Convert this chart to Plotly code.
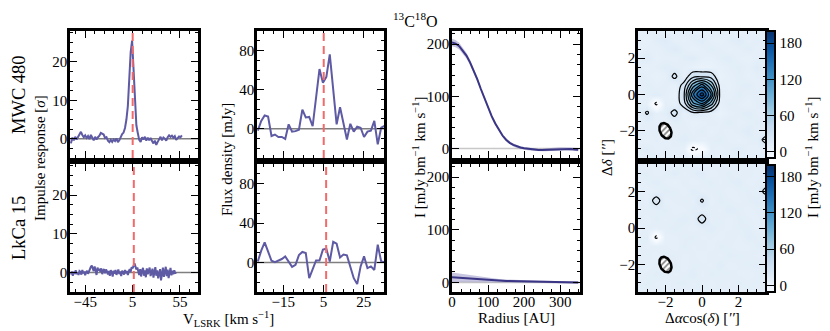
import numpy as np
import plotly.graph_objects as go

# ---------------- data ----------------
sources = ["MWC 480", "LkCa 15"]
v_sys = [5.1, 6.3]

# matched-filter impulse response [sigma]
ir_vel_mwc = np.arange(-60.0, 57.1, 1.5)
ir_mwc = [-1.2, 0.3, -0.4, 0.5, -0.2, 0.6, 1.4, 1.8, 1.0, 0.4,
          0.9, 0.2, 0.7, -0.1, 1.0, 0.3, -0.4, 0.5, -0.2, 0.4,
          0.8, 1.5, 1.3, 1.1, 0.2, 0.4, -0.5, -0.9, -0.3, -0.8,
          -0.2, -0.6, 0.1, -0.9, -0.4, 0.6, 1.2, 1.6, 2.8, 5.0,
          8.5, 15.5, 22.5, 25.5, 17.5, 8.5, 3.5, 1.5, -0.3, -0.8,
          0.4, -0.2, 0.5, -0.5, 0.3, -0.4, 0.2, -0.6, -1.2, -0.5,
          -1.6, -0.8, -0.2, 0.5, -0.4, 0.3, 0.0, -0.5, 0.4, 0.9,
          0.5, 0.8, 0.3, 0.7, -0.3, 0.2, 0.6, 0.4, 0.9]
ir_vel_lk = np.arange(-60.0, 51.1, 1.0)
ir_lk = [-0.5, 0.3, -0.8, 0.2, -0.3, 0.6, -0.4, 0.1, -0.6, 0.4,
         0.2, -0.5, 0.7, -0.2, 0.3, -0.7, 0.1, 0.5, -0.3, 0.4,
         0.9, 1.5, 1.8, 1.2, 0.4, 1.6, 0.8, -0.6, 1.3, 0.5,
         1.0, 0.2, 1.1, -0.4, 0.6, 0.9, -0.2, 0.8, 0.3, -0.5,
         0.4, -0.8, 0.6, 0.1, -1.0, 0.5, -0.3, 0.7, -0.6, 0.2,
         0.8, -0.4, 0.3, -0.9, 0.5, 0.1, -0.5, 0.7, -0.2, 0.4,
         -0.6, 0.3, 0.9, 0.2, 1.4, 1.1, 2.0, 2.4, 1.6, 0.8,
         1.3, 0.2, -0.6, 0.9, -1.0, 0.5, 1.2, -0.8, 0.6, -1.2,
         1.1, -0.4, 0.7, 1.3, -0.9, 0.2, 1.0, -1.3, 0.4, 1.4,
         -0.8, 0.6, -1.5, -0.3, 0.9, -2.0, 0.5, 1.3, -1.1, 0.2,
         1.5, -0.9, 0.8, -1.4, 0.3, 1.2, -0.7, 0.5, -0.4, 0.6,
         -0.2, 0.1]

# integrated spectra [mJy]
spec_vel = np.arange(-27.6, 35.4, 1.7)
spec_mwc = [-2, 8, 13.5, 12.5, -7.5, -6, -8.5, -8.5, -10.5, 4.5,
            -3, -2.5, -1, 19.5, 11.5, 12, 2.5, 33, 61, 47,
            53, 76, 38, 4.5, 22, 7, -11, 5, -3, 2,
            1, -8.5, -3, -2, 8, -16, 1, 3]
spec_lk = [1, 12, 20.5, 11.3, 1.7, 0.3, 2, 3.5, 6.2, 1,
           -4.5, -2.4, 7.5, 10.7, 9.6, -16, -7.6, 2, 2, 13,
           14, 1, 21, 19, 5, 8, 7.2, -5.8, -16, -22,
           -4, 6.2, -5.8, -4, -7.6, 18, 1, 0.3]

# radial intensity profiles [mJy/beam km/s]
radius_au = np.arange(0, 351, 10)
prof_mwc = [203, 201, 196, 188, 178, 165, 150, 133, 114, 96,
            78, 62, 48, 36, 25, 17, 11, 7, 4, 2,
            0.5, -0.6, -1.5, -2.2, -2.6, -2.7, -2.5, -2.0, -1.4, -0.8,
            -0.4, -0.2, -0.4, -0.9, -1.5, -2.0]
prof_mwc_spread = [7, 7, 6.5, 6, 5.5, 5, 4.5, 4.2, 4, 3.8,
                   3.5, 3.3, 3.2, 3, 3, 3, 2.8, 2.8, 2.7, 2.6,
                   2.5, 2.5, 2.5, 2.5, 2.5, 2.5, 2.5, 2.5, 2.6, 2.7,
                   2.8, 2.9, 3, 3.1, 3.2, 3.3]
prof_lk = [10, 9.5, 9, 8.3, 7.5, 6.8, 6.2, 5.6, 5.1, 4.7,
           4.3, 4, 3.7, 3.4, 3.1, 2.9, 2.7, 2.5, 2.3, 2.1,
           2, 1.8, 1.7, 1.5, 1.4, 1.3, 1.1, 1, 0.8, 0.7,
           0.5, 0.4, 0.2, 0.1, 0, -0.2]
prof_lk_spread = [9, 8.5, 8, 7.5, 7, 6.5, 6, 5.5, 5, 4.5,
                  4, 3.7, 3.4, 3.1, 2.9, 2.7, 2.5, 2.4, 2.3, 2.2,
                  2.1, 2, 2, 2, 2, 2, 2, 2, 2, 2,
                  2, 2, 2, 2, 2, 2]

# moment-0 maps, rows listed from +3.5" (top) down to -3.5"
map_offsets = np.linspace(-3.5, 3.5, 15)
mom0_mwc = [
    [8, 12, 10, 6, 9, 14, 11, 7, 10, 13, 9, 6, 11, 8, 10],
    [11, 7, 13, 15, 10, 8, 12, 14, 9, 7, 12, 15, 9, 12, 7],
    [6, 10, 9, 12, 16, 11, 7, 10, 13, 11, 8, 10, 14, 9, 11],
    [12, 15, 8, 10, 9, 13, 15, 9, 8, 12, 14, 9, 7, 10, 13],
    [9, 8, 11, 14, 12, 10, 6, 4, 5, 8, 11, 13, 10, 15, 9],
    [13, 10, 7, 9, 24, 8, 33, 35, 31, 5, 9, 12, 8, 11, 10],
    [10, 13, 9, 12, 7, 26, 90, 130, 80, 10, 8, 12, 14, 9, 12],
    [7, 11, 14, 10, 6, 34, 135, 192, 120, 12, 9, 13, 10, 12, 8],
    [12, 9, -25, 11, 8, 28, 95, 120, 70, 8, 13, 10, 7, 11, 14],
    [11, 22, 9, 12, 25, 8, 18, 16, 10, 5, 9, 12, 14, 10, 8],
    [9, 12, 10, 8, 13, 11, 7, 9, 12, 10, 14, 9, 11, 13, 10],
    [13, 10, 12, 15, 9, 12, 10, 13, 8, 11, 9, 12, 15, 10, 12],
    [10, 8, 11, 9, 12, 14, 11, 9, 12, 13, 10, 8, 11, 12, 26],
    [12, 14, 9, 11, 10, 8, -26, -14, 11, 9, 12, 14, 10, 9, 11],
    [8, 11, 13, 10, 7, 12, 9, 11, 13, 8, 10, 12, 9, 11, 13],
]
mom0_lk = [
    [10, 8, 12, 9, 11, 13, 10, 8, 12, 11, 9, 13, 10, 12, 9],
    [12, 13, 9, 11, 14, 10, 12, 15, 9, 11, 13, 10, 12, 9, 11],
    [9, 11, 14, 10, 8, 12, 9, 11, 13, 10, 12, 14, 9, 11, 13],
    [11, 9, 10, 13, 12, 9, 14, 10, 11, 12, 9, 11, 13, 10, 26],
    [13, 10, 27, 9, 11, 12, 10, 22, 9, 13, 11, 10, 12, 14, 10],
    [10, 12, 11, 13, 9, 10, 13, 11, 12, 10, 14, 12, 9, 11, 12],
    [12, 9, 13, 10, 12, 14, 11, 27, 10, 12, 9, 13, 11, 10, 14],
    [9, 11, 10, 12, 13, 11, 9, 12, 14, 11, 10, 12, 13, 9, 11],
    [11, 13, -25, 9, 10, 12, 13, 10, 11, 9, 12, 10, 14, 12, 10],
    [13, 10, 12, 11, 9, 13, 10, 12, 9, 13, 11, 9, 10, 13, 12],
    [10, 12, 9, 13, 12, 10, 11, 9, 12, 10, 13, 12, 11, 10, 9],
    [12, 9, 11, 10, 13, 9, 12, 11, 10, 14, 9, 11, 12, 13, 11],
    [9, 11, 13, 12, 10, 11, 14, 10, 13, 11, 12, 10, 9, 11, 13],
    [11, 13, 10, 9, 12, 13, 10, 12, 9, 12, 10, 13, 11, 12, 10],
    [13, 10, 12, 11, 10, 9, 12, 13, 11, 10, 12, 9, 13, 10, 12],
]
contour_start, contour_end, contour_step = 20, 180, 20
neg_level = -20

beam_x, beam_y = -2.0, -2.0
beam_major, beam_minor, beam_pa = 0.9, 0.6, 25

# ---------------- styling ----------------
# the page body adds an 8 px margin, so lay out in window pixels minus that
PAD = 8
W, H = 830 - PAD, 331 - PAD
FONT = "Liberation Serif"
LINE = "#5e5aa3"
DARK = "#3a3585"
RED = "#f26b6b"
BLUES = ["#f7fbff", "#deebf7", "#c6dbef", "#9ecae1", "#6baed6",
         "#4292c6", "#2171b5", "#08519c", "#08306b"]

col_px = [(70, 198), (257, 384), (452, 580), (638, 766)]
row_px = [(31, 158), (164, 292)]


def fx(px):
    return (px - PAD) / W


def fy(py):
    return 1 - (py - PAD) / H


def xd(a, b):
    return [fx(a), fx(b)]


def yd(a, b):
    return [fy(b), fy(a)]


# per column: x range, x tick0, dtick, minor, y range, y dtick, y minor
col_axes = [
    dict(xr=[-61, 74], xt0=5, xdt=50, xmn=10, yr=[-5, 28], ydt=10, ymn=2.5),
    dict(xr=[-28, 35], xt0=5, xdt=20, xmn=5, yr=[-30, 100], ydt=40, ymn=10),
    dict(xr=[0, 355], xt0=0, xdt=100, xmn=25, yr=[-18, 225], ydt=100, ymn=20),
    dict(xr=[-3.5, 3.5], xt0=0, xdt=2, xmn=0.5, yr=[-3.5, 3.5], ydt=2, ymn=0.5),
]


def axis(domain, anchor, rng, tick0, dtick, minor, labels, standoff):
    return dict(
        domain=domain, anchor=anchor, range=rng,
        tickmode="linear", tick0=tick0, dtick=dtick,
        ticks="inside", ticklen=7, tickwidth=1.2, tickcolor="black",
        minor=dict(tick0=tick0, dtick=minor, ticks="inside", ticklen=3.5,
                   tickwidth=1, tickcolor="black", showgrid=False),
        showline=True, linewidth=2.5, linecolor="black", mirror="allticks",
        showgrid=False, zeroline=False, showticklabels=labels,
        ticklabelstandoff=standoff,
        tickfont=dict(size=15, family=FONT, color="black"),
    )


fig = go.Figure()
layout = {}
shapes = []

for r in range(2):
    for c in range(4):
        n = r * 4 + c + 1
        s = "" if n == 1 else str(n)
        ca = col_axes[c]
        layout["xaxis" + s] = axis(xd(*col_px[c]), "y" + s, ca["xr"], ca["xt0"],
                                   ca["xdt"], ca["xmn"], r == 1, -6)
        layout["yaxis" + s] = axis(yd(*row_px[r]), "x" + s, ca["yr"], 0,
                                   ca["ydt"], ca["ymn"], True, -3)

# column 1: impulse response
for r, (vel, ir) in enumerate([(ir_vel_mwc, ir_mwc), (ir_vel_lk, ir_lk)]):
    s = "" if r == 0 else "5"
    fig.add_trace(go.Scatter(x=vel, y=ir, mode="lines", line=dict(color=LINE, width=2),
                             xaxis="x" + s, yaxis="y" + s, showlegend=False))

# column 2: spectra
for r, spec in enumerate([spec_mwc, spec_lk]):
    s = "2" if r == 0 else "6"
    fig.add_trace(go.Scatter(x=spec_vel, y=spec, mode="lines", line=dict(color=LINE, width=2),
                             xaxis="x" + s, yaxis="y" + s, showlegend=False))

# column 3: radial profiles with spread
for r, (prof, spread) in enumerate([(prof_mwc, prof_mwc_spread), (prof_lk, prof_lk_spread)]):
    s = "3" if r == 0 else "7"
    prof = np.array(prof)
    spread = np.array(spread)
    fig.add_trace(go.Scatter(x=radius_au, y=prof + spread, mode="lines", line=dict(width=0),
                             xaxis="x" + s, yaxis="y" + s, showlegend=False))
    fig.add_trace(go.Scatter(x=radius_au, y=prof - spread, mode="lines", line=dict(width=0),
                             fill="tonexty", fillcolor="rgba(94,90,163,0.35)",
                             xaxis="x" + s, yaxis="y" + s, showlegend=False))
    fig.add_trace(go.Scatter(x=radius_au, y=prof, mode="lines", line=dict(color=DARK, width=2),
                             xaxis="x" + s, yaxis="y" + s, showlegend=False))

# column 4: moment-0 maps
t = np.linspace(0, 2 * np.pi, 80)
pa = np.radians(beam_pa)
bx = beam_x + 0.5 * beam_minor * np.cos(t) * np.cos(pa) - 0.5 * beam_major * np.sin(t) * np.sin(pa)
by = beam_y + 0.5 * beam_minor * np.cos(t) * np.sin(pa) + 0.5 * beam_major * np.sin(t) * np.cos(pa)

for r, grid in enumerate([mom0_mwc, mom0_lk]):
    s = "4" if r == 0 else "8"
    z = np.array(grid)[::-1]
    fig.add_trace(go.Heatmap(x=map_offsets, y=map_offsets, z=z, zsmooth="best",
                             coloraxis="coloraxis" if r == 0 else "coloraxis2",
                             xaxis="x" + s, yaxis="y" + s))
    fig.add_trace(go.Contour(x=map_offsets, y=map_offsets, z=z, autocontour=False,
                             contours=dict(start=contour_start, end=contour_end,
                                           size=contour_step, coloring="lines"),
                             colorscale=[[0, "black"], [1, "black"]], showscale=False,
                             line=dict(width=1.2, smoothing=1.0),
                             xaxis="x" + s, yaxis="y" + s))
    fig.add_trace(go.Contour(x=map_offsets, y=map_offsets, z=z, autocontour=False,
                             contours=dict(start=neg_level, end=neg_level,
                                           size=contour_step, coloring="lines"),
                             colorscale=[[0, "black"], [1, "black"]], showscale=False,
                             line=dict(width=1.2, smoothing=1.0, dash="3px,2px"),
                             xaxis="x" + s, yaxis="y" + s))
    fig.add_trace(go.Scatter(x=bx, y=by, mode="lines", fill="toself",
                             fillpattern=dict(shape="/", fgcolor="black", bgcolor="white",
                                              size=4, solidity=0.4),
                             line=dict(color="black", width=2.5),
                             xaxis="x" + s, yaxis="y" + s, showlegend=False))

# zero lines and systemic velocity markers
for n, col in [(1, "#7f7f7f"), (5, "#7f7f7f"), (2, "#7f7f7f"), (6, "#7f7f7f"),
               (3, "#c8c8c8"), (7, "#c8c8c8")]:
    s = "" if n == 1 else str(n)
    shapes.append(dict(type="line", xref="x" + s + " domain", yref="y" + s,
                       x0=0, x1=1, y0=0, y1=0, layer="below",
                       line=dict(color=col, width=1.5)))
for n, vs in [(1, v_sys[0]), (2, v_sys[0]), (5, v_sys[1]), (6, v_sys[1])]:
    s = "" if n == 1 else str(n)
    shapes.append(dict(type="line", xref="x" + s, yref="y" + s + " domain",
                       x0=vs, x1=vs, y0=0, y1=1,
                       line=dict(color=RED, width=2, dash="8px,5px")))

cbar = dict(x=fx(766), xanchor="left", xpad=0, ypad=0, thickness=9,
            len=127 / H, lenmode="fraction", yanchor="middle",
            outlinewidth=2, outlinecolor="black", ticks="inside", ticklen=9,
            tickcolor="black", tickmode="array", tickvals=[0, 60, 120, 180],
            tickfont=dict(size=15, family=FONT, color="black"))
layout["coloraxis"] = dict(cmin=-10, cmax=200, colorscale=[[i / 8, c] for i, c in enumerate(BLUES)],
                           colorbar=dict(cbar, y=fy((31 + 158) / 2)))
layout["coloraxis2"] = dict(cmin=-10, cmax=200, colorscale=[[i / 8, c] for i, c in enumerate(BLUES)],
                            colorbar=dict(cbar, y=fy((164 + 292) / 2)))


def label(text, x, y, size=15, angle=0):
    return dict(text=text, x=fx(x), y=fy(y), xref="paper", yref="paper",
                showarrow=False, textangle=angle, xanchor="center", yanchor="middle",
                borderpad=0, font=dict(size=size, family=FONT, color="black"))


annotations = [
    label("<sup>13</sup>C<sup>18</sup>O", 415, 20, size=16),
    label(sources[0], 19, 95, size=18.5, angle=-90),
    label(sources[1], 19, 228, size=18.5, angle=-90),
    label("Impulse response [<i>σ</i>]", 40, 158, angle=-90),
    label("Flux density [mJy]", 227, 160, angle=-90),
    label("I [mJy bm<sup>−1</sup> km s<sup>−1</sup>]", 419, 157, angle=-90),
    label("Δ<i>δ</i> [<i>′′</i>]", 607, 158, angle=-90),
    label("I [mJy bm<sup>−1</sup> km s<sup>−1</sup>]", 812, 157, angle=-90),
    label("V<sub>LSRK</sub> [km s<sup>−1</sup>]", 228, 319),
    label("Radius [AU]", 516, 318),
    label("Δ<i>α</i>cos(<i>δ</i>) [<i>′′</i>]", 702, 318),
]

fig.update_layout(
    **layout,
    shapes=shapes,
    annotations=annotations,
    width=W, height=H,
    margin=dict(l=0, r=0, t=0, b=0, autoexpand=False),
    paper_bgcolor="white", plot_bgcolor="white",
    font=dict(family=FONT, color="black"),
    showlegend=False,
)

fig.write_html("out.html")
